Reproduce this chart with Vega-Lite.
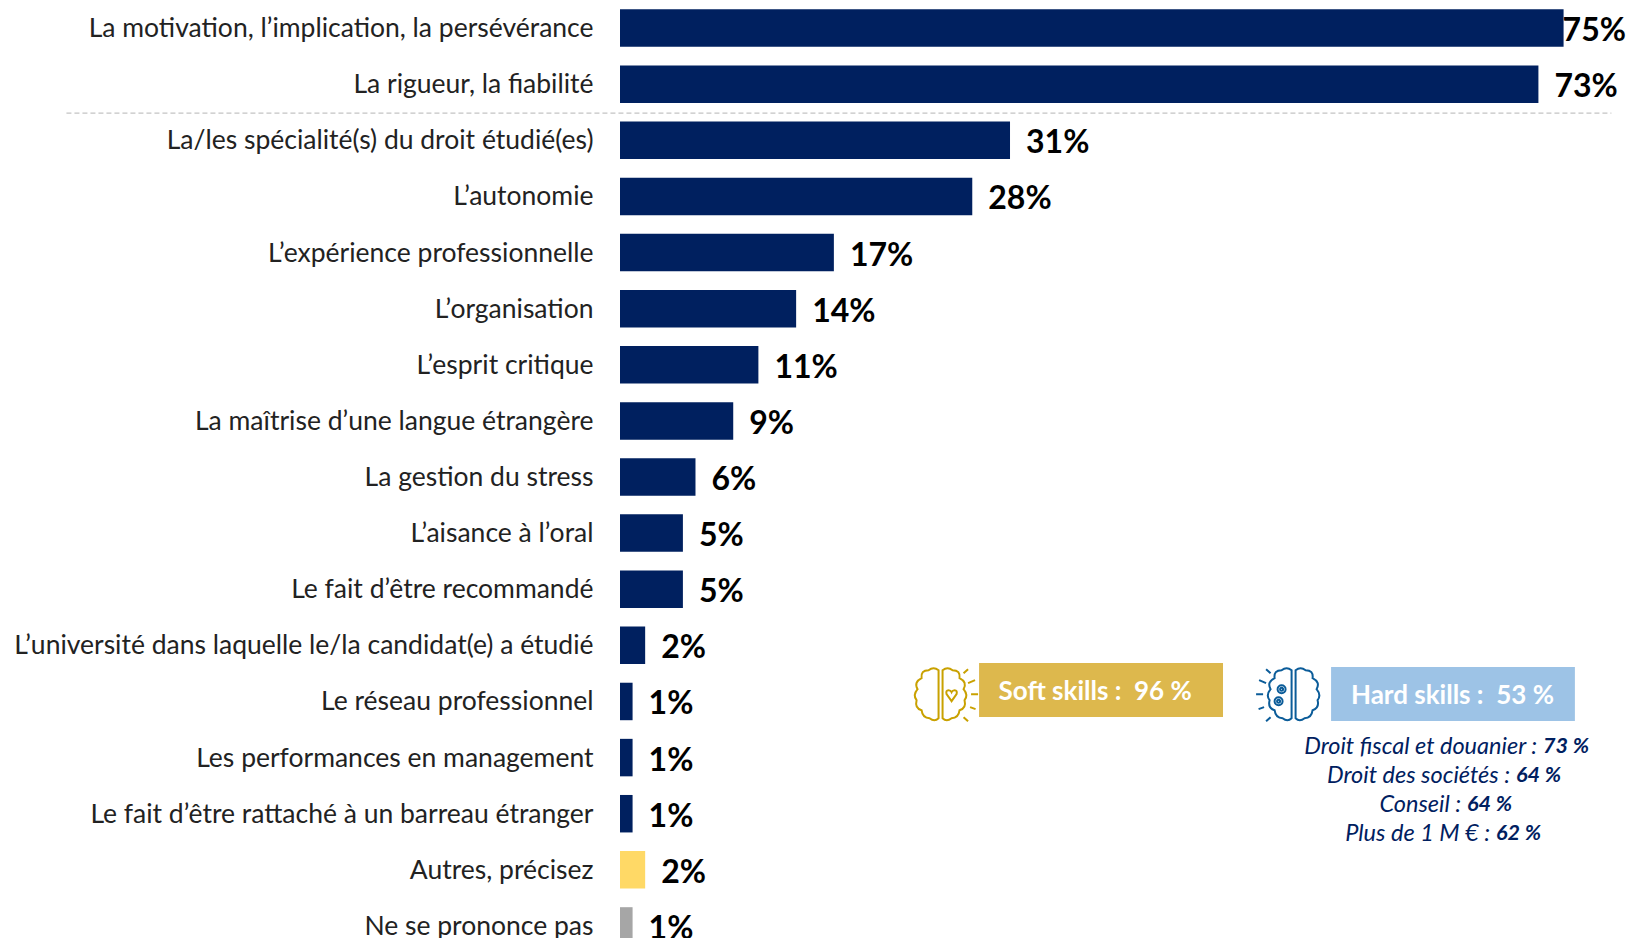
{
"$schema":"https://vega.github.io/schema/vega-lite/v6.json",
"autosize":{"type":"none"},
"padding":{"left":620,"top":0,"right":0,"bottom":0},
"width":1009,"height":938,
"background":"white",
"config":{"view":{"stroke":null},"font":"Lato"},
"datasets":{
"bars":[
{"critere":"La motivation, l’implication, la persévérance","pct":75,"etiquette":"75%","groupe":"principal"},
{"critere":"La rigueur, la fiabilité","pct":73,"etiquette":"73%","groupe":"principal"},
{"critere":"La/les spécialité(s) du droit étudié(es)","pct":31,"etiquette":"31%","groupe":"principal"},
{"critere":"L’autonomie","pct":28,"etiquette":"28%","groupe":"principal"},
{"critere":"L’expérience professionnelle","pct":17,"etiquette":"17%","groupe":"principal"},
{"critere":"L’organisation","pct":14,"etiquette":"14%","groupe":"principal"},
{"critere":"L’esprit critique","pct":11,"etiquette":"11%","groupe":"principal"},
{"critere":"La maîtrise d’une langue étrangère","pct":9,"etiquette":"9%","groupe":"principal"},
{"critere":"La gestion du stress","pct":6,"etiquette":"6%","groupe":"principal"},
{"critere":"L’aisance à l’oral","pct":5,"etiquette":"5%","groupe":"principal"},
{"critere":"Le fait d’être recommandé","pct":5,"etiquette":"5%","groupe":"principal"},
{"critere":"L’université dans laquelle le/la candidat(e) a étudié","pct":2,"etiquette":"2%","groupe":"principal"},
{"critere":"Le réseau professionnel","pct":1,"etiquette":"1%","groupe":"principal"},
{"critere":"Les performances en management","pct":1,"etiquette":"1%","groupe":"principal"},
{"critere":"Le fait d’être rattaché à un barreau étranger","pct":1,"etiquette":"1%","groupe":"principal"},
{"critere":"Autres, précisez","pct":2,"etiquette":"2%","groupe":"autres"},
{"critere":"Ne se prononce pas","pct":1,"etiquette":"1%","groupe":"nsp"}
],
"boxes":[
{"label":"Soft skills :\u00a0 96 %","x":28.54,"x2":47.93,"r":11.315,"r2":12.278,"tx":30.09,"tr":11.83,"fill":"soft"},
{"label":"Hard skills :\u00a0 53 %","x":56.52,"x2":75.9,"r":11.386,"r2":12.349,"tx":58.1,"tr":11.91,"fill":"hard"}
],
"details":[
{"txt":"Droit fiscal et douanier :","val":"73 %","x":73.37,"r":12.82},
{"txt":"Droit des sociétés :","val":"64 %","x":71.22,"r":13.32},
{"txt":"Conseil :","val":"64 %","x":67.33,"r":13.84},
{"txt":"Plus de 1 M € :","val":"62 %","x":69.63,"r":14.36}
],
"icons":[{"icone":"soft","x":25.48,"r":11.87},{"icone":"hard","x":53.54,"r":11.87}]
},
"layer":[
{"data":{"name":"bars"},
"encoding":{
"y":{"field":"critere","type":"nominal","sort":null,
"scale":{"range":[0,954],"paddingInner":0.332,"paddingOuter":0.166},
"axis":{"title":null,"domain":false,"ticks":false,"labelPadding":27,"labelFont":"Lato","labelFontSize":26.5,"labelOffset":1,"labelColor":"#222222","labelLimit":700,"grid":false}}
},
"layer":[
{"mark":{"type":"bar"},
"encoding":{
"x":{"field":"pct","type":"quantitative","scale":{"domain":[0,80.2],"nice":false,"zero":false},"axis":null},
"color":{"field":"groupe","type":"nominal","legend":null,"scale":{"domain":["principal","autres","nsp"],"range":["#00205F","#FFD966","#A6A6A6"]}}}},
{"transform":[{"filter":"datum.pct < 75"}],
"mark":{"type":"text","align":"left","baseline":"middle","dx":16,"dy":3,"font":"Lato","fontWeight":"bold","fontSize":32,"color":"#000000"},
"encoding":{"x":{"field":"pct","type":"quantitative"},"text":{"field":"etiquette"}}},
{"transform":[{"filter":"datum.pct >= 75"}],
"mark":{"type":"text","align":"left","baseline":"middle","dx":-1,"dy":3,"font":"Lato","fontWeight":"bold","fontSize":32,"color":"#000000"},
"encoding":{"x":{"field":"pct","type":"quantitative"},"text":{"field":"etiquette"}}},
{"data":{"values":[{"debut":-44,"fin":78.8,"critere":"La rigueur, la fiabilité"}]},
"mark":{"type":"rule","stroke":"#C4C4C4","strokeWidth":1.2,"strokeDash":[5,3]},
"encoding":{"x":{"field":"debut","type":"quantitative"},"x2":{"field":"fin"},"y":{"field":"critere","type":"nominal","sort":null,"bandPosition":1.27}}}
]},
{"encoding":{},
"layer":[
{"data":{"name":"boxes"},"mark":{"type":"rect"},
"encoding":{
"x":{"field":"x","type":"quantitative"},"x2":{"field":"x2"},
"y":{"field":"r","type":"quantitative","axis":null,"scale":{"domain":[-0.5,16.5],"range":[0,954],"nice":false,"zero":false}},"y2":{"field":"r2"},
"color":{"field":"fill","type":"nominal","legend":null,"scale":{"domain":["soft","hard"],"range":["#DDB84D","#9DC3E6"]}}}},
{"data":{"name":"boxes"},"mark":{"type":"text","align":"left","baseline":"middle","font":"Lato","fontWeight":"bold","fontSize":26,"color":"#FFFFFF"},
"encoding":{"x":{"field":"tx","type":"quantitative"},"y":{"field":"tr","type":"quantitative"},"text":{"field":"label"}}},
{"data":{"name":"details"},"mark":{"type":"text","align":"right","baseline":"middle","dx":-6,"font":"Lato","fontStyle":"italic","fontSize":23.5,"color":"#00205F"},
"encoding":{"x":{"field":"x","type":"quantitative"},"y":{"field":"r","type":"quantitative"},"text":{"field":"txt"}}},
{"data":{"name":"details"},"mark":{"type":"text","align":"left","baseline":"middle","font":"Lato","fontStyle":"italic","fontWeight":"bold","fontSize":21.5,"color":"#00205F"},
"encoding":{"x":{"field":"x","type":"quantitative"},"y":{"field":"r","type":"quantitative"},"text":{"field":"val"}}},
{"data":{"name":"icons"},"transform":[{"filter":"datum.icone == 'soft'"}],
"mark":{"type":"point","filled":false,"opacity":1,"size":4,"stroke":"#C9A100","strokeWidth":2,
"shape":"M-2 -24Q-7 -28 -12 -24Q-20 -24 -19 -16Q-27 -12 -23 -5Q-28 1 -24 6Q-26 14 -19 16Q-18 24 -11 24Q-6 28 -2 24ZM2 -24Q7 -28 12 -24Q20 -24 19 -16Q27 -12 23 -5Q28 1 24 6Q26 14 19 16Q18 24 11 24Q6 28 2 24ZM11 7L6 0Q5 -4 8 -4Q10 -4 11 -2Q12 -4 14 -4Q17 -4 16 0ZM23 -21L27.5 -25M27.5 -11L34.5 -14M30.5 0L37.5 0M29.5 13L35 15M23 23L27.5 27"},
"encoding":{"x":{"field":"x","type":"quantitative"},"y":{"field":"r","type":"quantitative"}}},
{"data":{"name":"icons"},"transform":[{"filter":"datum.icone == 'hard'"}],
"mark":{"type":"point","filled":false,"opacity":1,"size":4,"stroke":"#0B5C99","strokeWidth":2,
"shape":"M-2 -24Q-7 -28 -12 -24Q-20 -24 -19 -16Q-27 -12 -23 -5Q-28 1 -24 6Q-26 14 -19 16Q-18 24 -11 24Q-6 28 -2 24ZM2 -24Q7 -28 12 -24Q20 -24 19 -16Q27 -12 23 -5Q28 1 24 6Q26 14 19 16Q18 24 11 24Q6 28 2 24ZM-8 -5A4 4 0 1 0 -16 -5A4 4 0 1 0 -8 -5ZM-10.5 -5A1.5 1.5 0 1 0 -13.5 -5A1.5 1.5 0 1 0 -10.5 -5ZM-11 7A4 4 0 1 0 -19 7A4 4 0 1 0 -11 7ZM-13.5 7A1.5 1.5 0 1 0 -16.5 7A1.5 1.5 0 1 0 -13.5 7ZM-23 -21L-27.5 -25M-27.5 -11L-34.5 -14M-30.5 0L-37.5 0M-29.5 13L-35 15M-23 23L-27.5 27"},
"encoding":{"x":{"field":"x","type":"quantitative"},"y":{"field":"r","type":"quantitative"}}}
]}
],
"resolve":{"scale":{"y":"independent","color":"independent"}}
}
